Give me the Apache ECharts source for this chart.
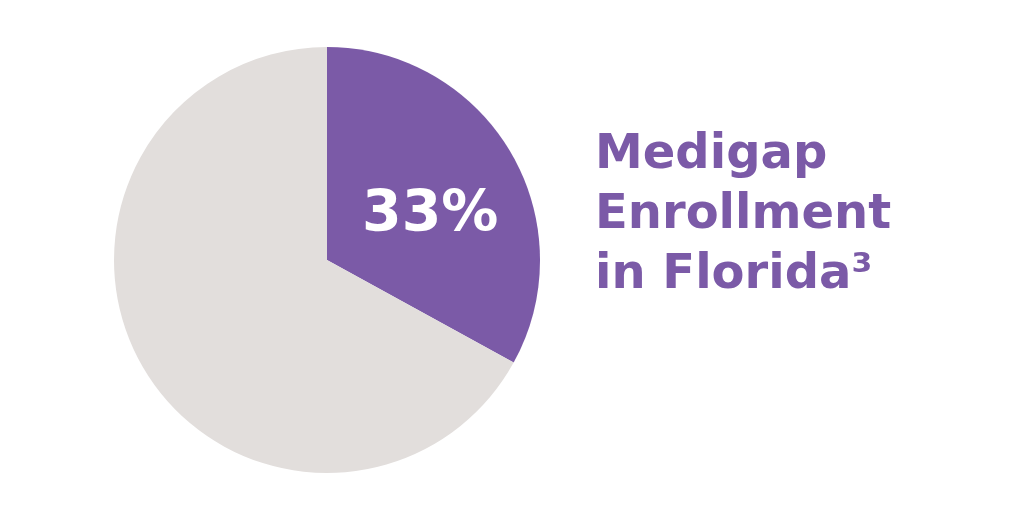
<!DOCTYPE html>
<html><head><meta charset="utf-8">
<script src="https://cdn.jsdelivr.net/npm/echarts@6/dist/echarts.min.js"></script>
<style>html,body{margin:0;padding:0;background:#fff}#c{width:1024px;height:517px}</style>
</head><body><div id="c"></div>
<script>
const categories = ['Medigap Enrollment in Florida', 'Other'];
const values = [33, 67];
const labels = ['33%', ''];
const titleLines = ['Medigap', 'Enrollment', 'in Florida³'];

const chart = echarts.init(document.getElementById('c'));
const FONT = 'DejaVu Sans';
chart.setOption({
  backgroundColor: '#ffffff',
  animation: false,
  series: [{
    type: 'pie',
    center: [327, 260],
    radius: [0, 213],
    startAngle: 90,
    clockwise: true,
    silent: true,
    label: {
      show: true, position: 'inner',
      formatter: p => labels[p.dataIndex],
      color: '#ffffff', fontFamily: FONT, fontWeight: 'bold', fontSize: 57,
      offset: [9, 12]
    },
    labelLine: { show: false },
    itemStyle: { borderWidth: 0 },
    data: categories.map((c, i) => ({
      name: c, value: values[i],
      itemStyle: { color: i === 0 ? '#7B5AA7' : '#E2DEDC' }
    }))
  }],
  graphic: titleLines.map((t, i) => ({
    type: 'text', left: 595, top: 132 + i * 60,
    style: { text: t, fill: '#7B5AA7', font: 'bold 48px "' + FONT + '"' }
  }))
});
</script></body></html>
